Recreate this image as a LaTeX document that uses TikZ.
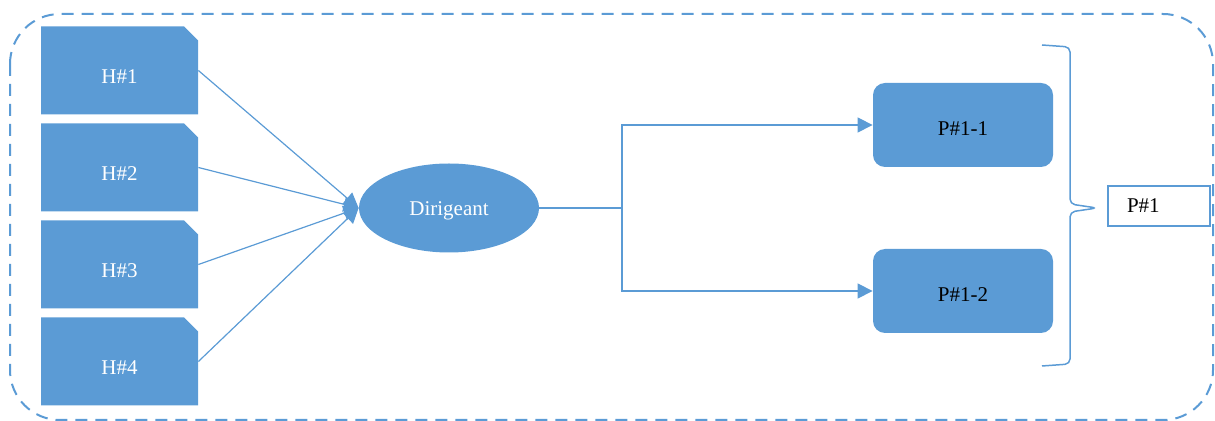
\documentclass[tikz,border=0pt]{standalone}
\usepackage{fontspec}
\setmainfont{Liberation Serif}
\usepackage{tikz}
\usetikzlibrary{arrows.meta,shapes.geometric,shapes.misc}
\definecolor{officeblue}{RGB}{91,155,213}
\tikzset{
  hbox/.style={chamfered rectangle,chamfered rectangle corners=north east,chamfered rectangle xsep=3.5pt,chamfered rectangle ysep=3.5pt,fill=officeblue,draw=none,minimum width=78.5pt,minimum height=44pt,inner sep=0pt,text=white,text height=13.5pt,text depth=0pt},
  dirig/.style={ellipse,fill=officeblue,minimum width=90pt,minimum height=44.5pt,inner sep=0pt,text=white,text height=10pt,text depth=2pt},
  pbox/.style={rectangle,rounded corners=6pt,fill=officeblue,minimum width=90pt,minimum height=42pt,inner sep=0pt,text=black,text height=11pt,text depth=0pt},
  outbox/.style={rectangle,draw=officeblue,line width=1pt,fill=white,inner xsep=9.5pt,inner ysep=0pt,text width=32pt,align=left,minimum height=20pt},
  arr/.style={-{Triangle[length=7.5pt,width=7.5pt]},draw=officeblue,line width=0.6pt},
  line/.style={draw=officeblue,line width=0.6pt},
  frame/.style={draw=officeblue,line width=1pt,dash pattern=on 6pt off 4pt,rounded corners=25pt},
  bracket/.style={draw=officeblue,line width=0.75pt,rounded corners=2.5pt}
}

\begin{document}
\begin{tikzpicture}[x=0.5pt,y=-0.5pt,font=\fontsize{10.5}{12}\selectfont]
  \useasboundingbox (0,0) rectangle (1215,421);
  % outer dashed frame
  \draw[frame] (10,14) rectangle (1213,420);

  % H boxes
  \foreach \i in {1,...,4}
    \node[hbox] (h\i) at (119.5,{70.5+97*(\i-1)}) {H\#\i};
  \node[dirig] (dir) at (449,208) {Dirigeant};
  \foreach \i in {1,...,4}
    \draw[arr] (h\i.east) -- (dir.west);

  % P boxes
  \node[pbox] (p11) at (963,125) {P\#1-1};
  \node[pbox] (p12) at (963,291) {P\#1-2};
  \coordinate (split) at (622,208);
  \draw[line] (dir.east) -- (split);
  \draw[arr] (split) |- (p11.west);
  \draw[arr] (split) |- (p12.west);

  % brace and result
  \draw[bracket] (1042,45) -- (1070,47) -- (1070,204) -- (1097,208) -- (1070,212) -- (1070,364) -- (1042,366);
  \node[outbox] (p1) at (1159,206) {P\#1};
\end{tikzpicture}
\end{document}
